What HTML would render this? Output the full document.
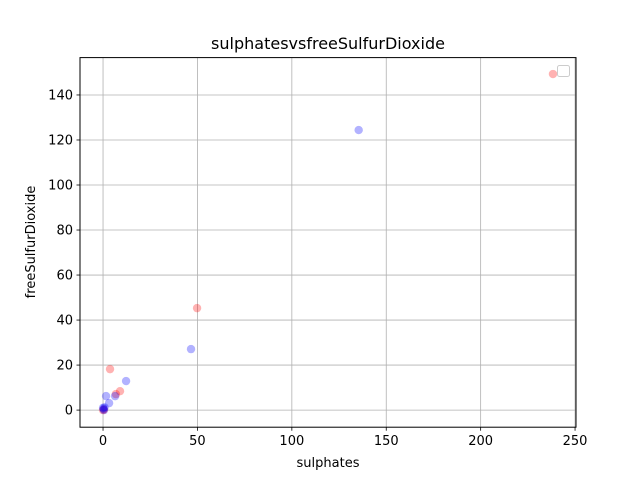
<!DOCTYPE html>
<html><head><meta charset="utf-8"><style>
body{margin:0;background:#fff;font-family:"Liberation Sans","DejaVu Sans",sans-serif}
</style></head><body>
<svg id="chart" width="640" height="480" font-family="DejaVu Sans, Liberation Sans, sans-serif">
<rect width="640" height="480" fill="#fff"/>
<g id="grid"></g>
<g id="points"></g>
<rect x="80" y="57.6" width="496" height="369.6" fill="none" stroke="#000" stroke-width="1"/>
<g id="ticks"></g>
<text x="328" y="49" text-anchor="middle" font-size="16">sulphatesvsfreeSulfurDioxide</text>
<text x="328" y="467" text-anchor="middle" font-size="13">sulphates</text>
<text x="35" y="242" text-anchor="middle" font-size="13" transform="rotate(-90 35 242)">freeSulfurDioxide</text>
<rect x="557.5" y="65.5" width="12" height="11" rx="2" fill="#fff" fill-opacity="0.8" stroke="#ccc"/>
</svg>
<script>
const xTicks=[0,50,100,150,200,250];
const yTicks=[0,20,40,60,80,100,120,140];
const redX=[238.3,49.8,3.7,9,6.8,0,0.5];
const redY=[149.3,45.3,18.2,8.4,7.1,0,0.3];
const blueX=[135.4,46.6,12.2,1.6,6.4,3.2,0,0.3,0.8,0.5];
const blueY=[124.4,27.1,12.9,6.2,6.2,3.1,1,0.5,1.2,0];
const X0=80,X1=576,Y0=427.2,Y1=57.6,xmin=-12.2,xmax=250.5,ymin=-7.6,ymax=156.6;
const sx=v=>X0+(v-xmin)/(xmax-xmin)*(X1-X0);
const sy=v=>Y0-(v-ymin)/(ymax-ymin)*(Y0-Y1);
const NS="http://www.w3.org/2000/svg";
const g=document.getElementById('grid'),t=document.getElementById('ticks'),p=document.getElementById('points');
function mk(tag,a,parent){const e=document.createElementNS(NS,tag);for(const k in a)e.setAttribute(k,a[k]);parent.appendChild(e);return e;}
xTicks.forEach(v=>{const x=sx(v);
 const l=mk('line',{x1:x,x2:x,y1:Y1,y2:Y0,stroke:'#b0b0b0','stroke-width':0.8},g);
 
 
 mk('line',{x1:x,x2:x,y1:Y0,y2:Y0+3.5,stroke:'#000','stroke-width':0.8},t);
 const tx=mk('text',{x:x,y:Y0+18,'text-anchor':'middle','font-size':13},t);tx.textContent=v;
 
 
});
yTicks.forEach(v=>{const y=sy(v);
 const l=mk('line',{x1:X0,x2:X1,y1:y,y2:y,stroke:'#b0b0b0','stroke-width':0.8},g);
 
 
 mk('line',{x1:X0-3.5,x2:X0,y1:y,y2:y,stroke:'#000','stroke-width':0.8},t);
 const tx=mk('text',{x:X0-7,y:y+4.5,'text-anchor':'end','font-size':13},t);tx.textContent=v;
 
 
});
redX.forEach((v,i)=>{const c=mk('circle',{cx:sx(v),cy:sy(redY[i]),r:4.2,fill:'#ff0000','fill-opacity':0.3},p);
 
 });
blueX.forEach((v,i)=>{const c=mk('circle',{cx:sx(v),cy:sy(blueY[i]),r:4.2,fill:'#0000ff','fill-opacity':0.3},p);
 
 });
</script>
</body></html>
